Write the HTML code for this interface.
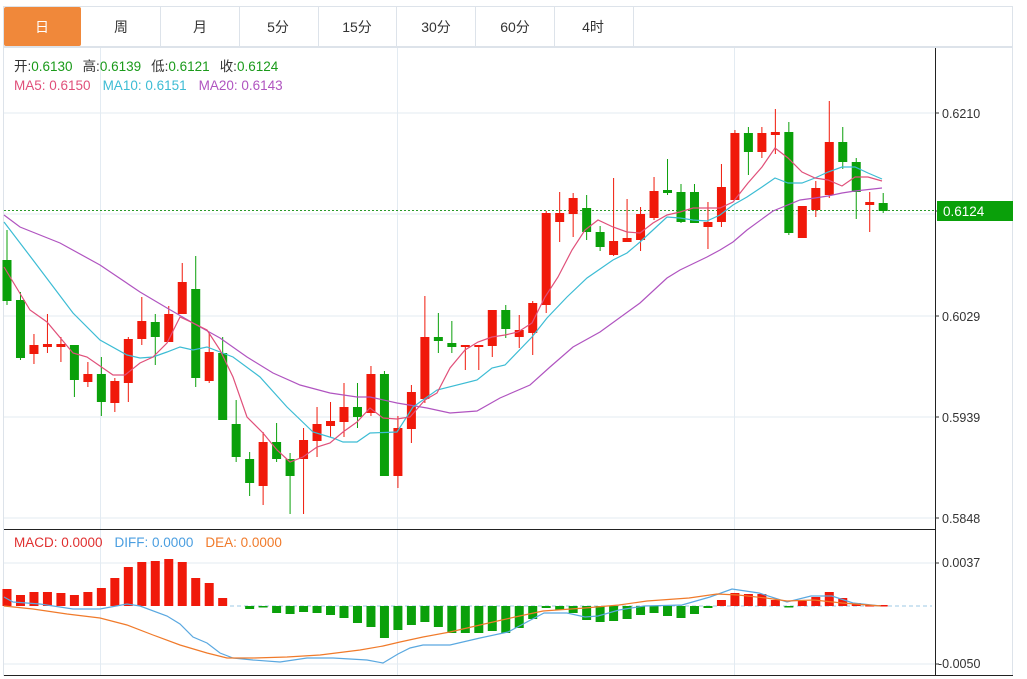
<!DOCTYPE html>
<html><head><meta charset="utf-8">
<style>
body{margin:0;background:#fff;width:1027px;height:679px;overflow:hidden;font-family:"Liberation Sans","Noto Sans CJK SC",sans-serif;}
svg{position:absolute;left:0;top:0}
</style></head>
<body>
<svg id="s" width="1027" height="679" xmlns="http://www.w3.org/2000/svg" font-family="Liberation Sans, Noto Sans CJK SC, sans-serif">
<rect x="0" y="0" width="1027" height="679" fill="#fff"/>
<!-- tabs -->
<rect x="3.5" y="6.5" width="1009" height="40" fill="#fff" stroke="#dde3ea"/>
<rect x="4" y="7" width="77" height="39" rx="2" fill="#f0883a"/>
<g stroke="#dde3ea"><line x1="160.5" y1="7" x2="160.5" y2="46"/><line x1="239.5" y1="7" x2="239.5" y2="46"/><line x1="318.5" y1="7" x2="318.5" y2="46"/><line x1="396.5" y1="7" x2="396.5" y2="46"/><line x1="475.5" y1="7" x2="475.5" y2="46"/><line x1="554.5" y1="7" x2="554.5" y2="46"/><line x1="633.5" y1="7" x2="633.5" y2="46"/></g>
<g font-size="14" text-anchor="middle" fill="#333"><text x="42" y="32" fill="#fff">日</text><text x="121" y="32">周</text><text x="200" y="32">月</text><text x="278" y="32">5分</text><text x="357" y="32">15分</text><text x="436" y="32">30分</text><text x="515" y="32">60分</text><text x="593" y="32">4时</text></g>
<!-- frame -->
<rect x="3.5" y="47.5" width="1009" height="628" fill="none" stroke="#dde3ea"/>
<g stroke="#e3ebf2"><line x1="4" y1="113" x2="935" y2="113"/><line x1="4" y1="214" x2="935" y2="214"/><line x1="4" y1="316" x2="935" y2="316"/><line x1="4" y1="417" x2="935" y2="417"/><line x1="4" y1="518" x2="935" y2="518"/><line x1="4" y1="563" x2="935" y2="563"/><line x1="4" y1="664" x2="935" y2="664"/>
<line x1="100.5" y1="48" x2="100.5" y2="676"/><line x1="397.5" y1="48" x2="397.5" y2="676"/><line x1="734.5" y1="48" x2="734.5" y2="676"/></g>
<line x1="935.5" y1="48" x2="935.5" y2="676" stroke="#222"/>
<line x1="4" y1="529.5" x2="935" y2="529.5" stroke="#222"/>
<line x1="4" y1="675.5" x2="1013" y2="675.5" stroke="#222"/>
<g font-size="12.5" fill="#333"><text x="942" y="118">0.6210</text><text x="942" y="321">0.6029</text><text x="942" y="422">0.5939</text><text x="942" y="523">0.5848</text><text x="942" y="567">0.0037</text><text x="938" y="668">-0.0050</text></g>
<g stroke="#333"><line x1="935" y1="113" x2="939" y2="113"/><line x1="935" y1="316" x2="939" y2="316"/><line x1="935" y1="417" x2="939" y2="417"/><line x1="935" y1="518" x2="939" y2="518"/><line x1="935" y1="563" x2="939" y2="563"/><line x1="935" y1="664" x2="939" y2="664"/><line x1="935" y1="211" x2="939" y2="211"/></g>
<line x1="4" y1="210.5" x2="935" y2="210.5" stroke="#2a9a2a" stroke-dasharray="2,2"/>
<rect x="937" y="201" width="76" height="20" fill="#0aa00a"/>
<text x="943" y="216" font-size="13.5" fill="#fff">0.6124</text>
<line x1="230" y1="606" x2="932" y2="606" stroke="#9cc8e4" stroke-dasharray="4,3"/>
<g id="c"></g>
<!-- legend -->
<g font-size="13.5"><text x="14" y="71"><tspan fill="#333">开:</tspan><tspan fill="#1a9a1a">0.6130</tspan><tspan fill="#333" dx="10">高:</tspan><tspan fill="#1a9a1a">0.6139</tspan><tspan fill="#333" dx="10">低:</tspan><tspan fill="#1a9a1a">0.6121</tspan><tspan fill="#333" dx="10">收:</tspan><tspan fill="#1a9a1a">0.6124</tspan></text>
<text x="14" y="90"><tspan fill="#e0507a">MA5: 0.6150</tspan><tspan fill="#3cbcd4" dx="12">MA10: 0.6151</tspan><tspan fill="#b054c0" dx="12">MA20: 0.6143</tspan></text>
<text x="14" y="547"><tspan fill="#e03030">MACD: 0.0000</tspan><tspan fill="#4a9ee0" dx="12">DIFF: 0.0000</tspan><tspan fill="#f07a2a" dx="12">DEA: 0.0000</tspan></text></g>
</svg>
<script>
var C=[["g",260,301,230,305],["g",300,358,292,360],["r",345,354,334,364],["r",344,347,314,353],["r",344,347,337,362],["g",345,380,345,397],["r",374,382,362,387],["g",374,402,357,416],["r",381,403,378,412],["r",339,383,337,402],["r",321,339,297,345],["g",322,337,314,365],["r",314,342,306,342],["r",282,314,263,314],["g",289,378,256,387],["r",352,381,333,383],["g",353,420,337,420],["g",424,457,400,462],["g",459,483,452,496],["r",442,486,432,505],["g",442,459,423,462],["g",459,476,453,514],["r",440,459,428,514],["r",424,441,407,457],["r",421,426,402,437],["r",407,422,383,437],["g",407,417,383,428],["r",374,413,366,416],["g",374,476,371,476],["r",428,476,416,488],["r",392,429,385,443],["r",337,399,296,403],["g",337,341,313,353],["g",343,347,321,353],["r",345,347,345,370],["r",345,347,345,370],["r",310,346,310,357],["g",310,329,305,338],["r",330,337,315,348],["r",303,333,301,355],["r",213,305,211,313],["r",213,222,192,242],["r",198,214,193,237],["g",208,232,195,240],["g",232,247,226,251],["r",241,255,178,256],["r",238,242,199,242],["r",214,240,207,251],["r",191,218,177,220],["g",190,193,159,195],["g",192,222,184,223],["g",192,223,184,223],["r",222,227,202,249],["r",187,222,164,227],["r",133,200,130,200],["g",133,152,127,175],["r",133,152,127,158],["r",132,135,109,154],["g",132,233,122,235],["r",206,238,206,238],["r",188,210,181,217],["r",142,195,101,198],["g",142,162,127,169],["g",162,192,158,219],["r",202,205,192,232],["g",203,211,193,213]];
var H=[589,595,592,592,593,595,592,588,578,567,562,561,559,562,578,583,598,606,609,607,613,614,612,613,615,618,623,627,638,630,625,622,627,633,633,633,631,633,628,619,608,610,613,620,622,621,619,615,613,616,618,614,608,600,593,594,594,600,607,601,597,592,598,603,605,605];
var RED="#f0190a",GRN="#0aa00a",o="";
for(var i=0;i<66;i++){var x=7+i*13.48,c=C[i],col=c[0]=="r"?RED:GRN;
o+='<line x1="'+x+'" y1="'+c[3]+'" x2="'+x+'" y2="'+c[4]+'" stroke="'+col+'" stroke-width="1"/>';
o+='<rect x="'+(x-4.5)+'" y="'+c[1]+'" width="9" height="'+Math.max(2,c[2]-c[1])+'" fill="'+col+'"/>';
var h=H[i];if(h!=606){var t=Math.min(h,606),b=Math.max(h,606);o+='<rect x="'+(x-4.5)+'" y="'+t+'" width="9" height="'+Math.max(1.5,b-t)+'" fill="'+(h<606?RED:GRN)+'"/>';}}
function pl(p,col){return '<polyline fill="none" stroke="'+col+'" stroke-width="1.2" points="'+p+'"/>';}
o+=pl("4,215 20,227 60,243 100,265 140,292 167,308 193,323 220,338 247,357 273,373 300,385 330,393 357,397 370,397 397,403 427,408 450,413 477,411 500,398 530,385 550,367 573,347 600,332 640,303 667,278 680,270 707,257 720,250 733,242 747,230 773,211 800,200 815,198 828,196 842,193 855,191 882,188","#b054c0");
o+=pl("4,222 33,260 73,313 100,340 127,355 140,358 153,357 167,352 180,347 193,350 207,347 233,357 260,377 287,407 313,432 333,438 343,442 357,442 370,433 397,432 413,407 437,390 477,380 492,368 505,365 532,337 547,318 567,297 587,278 613,260 627,253 640,242 653,230 667,217 680,218 693,220 707,221 720,215 733,205 747,197 762,187 775,178 788,183 802,183 815,178 828,172 842,167 855,167 868,173 882,179","#3cbcd4");
o+=pl("4,267 30,310 47,322 73,353 87,357 113,375 125,375 140,363 153,357 167,343 180,317 193,323 207,330 220,350 233,377 247,417 263,433 277,450 290,462 303,457 317,447 330,443 343,432 357,422 370,408 383,418 397,419 410,417 425,400 437,393 450,368 465,350 478,342 492,337 505,335 518,332 532,323 545,297 558,277 572,250 585,230 598,220 613,227 627,232 640,233 653,223 667,215 680,212 693,208 707,208 720,208 733,202 748,183 762,167 775,148 788,158 802,172 815,178 828,180 842,186 855,177 868,177 882,181","#e0507a");
o+=pl("4,597 13,602 40,604 73,609 100,609 127,604 140,606 167,616 180,624 193,637 207,643 220,653 233,658 253,660 280,662 307,658 333,658 367,660 383,663 398,654 410,648 423,645 450,645 480,638 508,632 525,623 544,613 567,613 585,617 598,616 619,610 644,606 682,605 710,597 732,589 759,593 787,602 811,596 832,596 853,603 881,606","#5aa8e0");
o+=pl("4,606 33,609 67,614 100,618 127,625 153,635 180,645 207,653 227,658 253,658 287,657 320,655 360,650 383,646 400,642 423,637 450,632 480,625 515,617 543,611 585,608 619,605 647,601 689,598 717,594 738,595 766,598 787,601 814,600 842,603 881,606","#f07a2a");
document.getElementById("c").innerHTML=o;
</script>
</body></html>
